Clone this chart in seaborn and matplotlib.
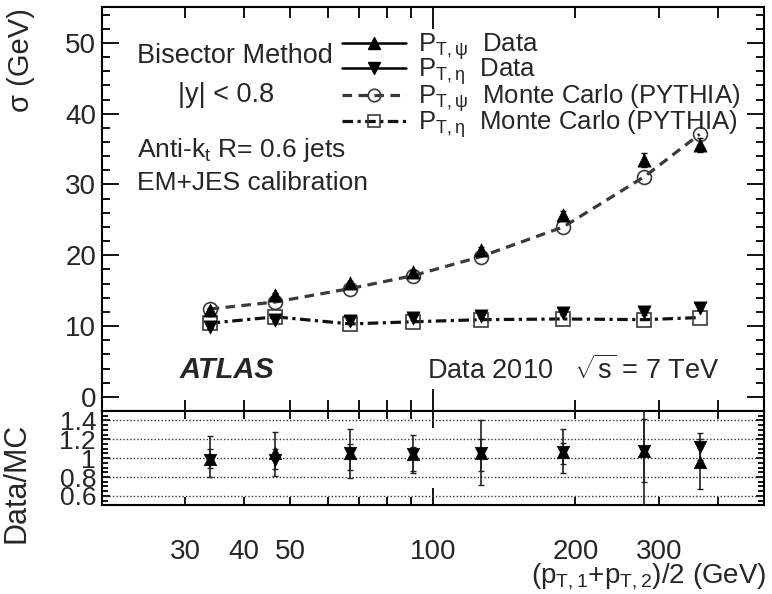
import matplotlib
matplotlib.use('Agg')
import matplotlib.pyplot as plt
import seaborn as sns
import pandas as pd
import numpy as np
from matplotlib.lines import Line2D
from matplotlib.ticker import FixedLocator, FuncFormatter, MultipleLocator, NullFormatter

# pT average bin centres (GeV)
pt_avg = [33.8, 46.5, 67.0, 90.6, 126.1, 188.5, 279.6, 365.9]

# sigma (GeV)
sigma_psi_data = [12.2, 14.4, 16.1, 17.6, 20.7, 25.7, 33.4, 35.6]
sigma_psi_err = [0.3, 0.3, 0.3, 0.3, 0.4, 0.5, 1.0, 1.0]
sigma_eta_data = [9.9, 10.8, 10.7, 11.1, 11.4, 11.8, 12.0, 12.6]
sigma_eta_err = [0.2, 0.2, 0.2, 0.2, 0.3, 0.3, 0.4, 0.4]
sigma_psi_mc = [12.4, 13.4, 15.3, 17.1, 19.8, 24.0, 31.1, 37.1]
sigma_eta_mc = [10.4, 11.3, 10.3, 10.6, 10.9, 11.0, 10.9, 11.2]

# Data/MC
ratio_psi = [0.99, 1.05, 1.05, 1.04, 1.05, 1.07, 1.08, 0.96]
ratio_psi_lo = [0.80, 0.81, 0.79, 0.84, 0.72, 0.84, 0.40, 0.67]
ratio_psi_hi = [1.23, 1.28, 1.31, 1.25, 1.40, 1.31, 1.80, 1.20]
ratio_eta = [0.98, 0.98, 1.05, 1.04, 1.05, 1.07, 1.08, 1.12]
ratio_eta_lo = [0.90, 0.88, 0.87, 0.86, 0.86, 0.94, 0.75, 0.98]
ratio_eta_hi = [1.10, 1.10, 1.15, 1.12, 1.20, 1.16, 1.41, 1.27]

df = pd.DataFrame({'pt': pt_avg,
                   'psi_data': sigma_psi_data, 'eta_data': sigma_eta_data,
                   'psi_mc': sigma_psi_mc, 'eta_mc': sigma_eta_mc,
                   'r_psi': ratio_psi, 'r_eta': ratio_eta})

sns.set_style('ticks')
plt.rcParams['font.family'] = ['Liberation Sans', 'DejaVu Sans']
plt.rcParams['mathtext.fontset'] = 'custom'
plt.rcParams['mathtext.rm'] = 'Liberation Sans'
plt.rcParams['mathtext.it'] = 'Liberation Sans:italic'
plt.rcParams['axes.linewidth'] = 1.5
plt.rcParams['axes.edgecolor'] = 'black'

fig = plt.figure(figsize=(7.72, 5.94), dpi=100)
ax1 = fig.add_axes([0.1317, 0.3081, 0.8579, 0.6793])
ax2 = fig.add_axes([0.1317, 0.1493, 0.8579, 0.1588])

grey = '#3a3a3a'

# --- top panel
ax1.set_xscale('log')
sns.lineplot(data=df, x='pt', y='psi_mc', ax=ax1, color=grey, lw=2.3,
             linestyle=(0, (3, 2)), marker='o', markersize=10,
             markerfacecolor='none', markeredgecolor=grey, markeredgewidth=1.2,
             zorder=2)
sns.lineplot(data=df, x='pt', y='eta_mc', ax=ax1, color='#111111', lw=2.3,
             linestyle=(0, (3.3, 1.4, 1, 1.4)), marker='s', markersize=10,
             markerfacecolor='none', markeredgecolor=grey, markeredgewidth=1.2,
             zorder=2)
ax1.errorbar(pt_avg, sigma_psi_data, yerr=sigma_psi_err, fmt='none',
             ecolor='black', elinewidth=1.2, capsize=2, zorder=3)
ax1.errorbar(pt_avg, sigma_eta_data, yerr=sigma_eta_err, fmt='none',
             ecolor='black', elinewidth=1.2, capsize=2, zorder=3)
sns.scatterplot(data=df, x='pt', y='psi_data', ax=ax1, marker='^', s=90,
                color='black', edgecolor='black', linewidth=0.5, zorder=4)
sns.scatterplot(data=df, x='pt', y='eta_data', ax=ax1, marker='v', s=90,
                color='black', edgecolor='black', linewidth=0.5, zorder=4)

ax1.set_ylim(-2, 55)
ax1.set_xlim(20, 500)
ax1.set_xlabel('')
ax1.set_ylabel('')
ax1.yaxis.set_major_locator(MultipleLocator(10))
ax1.yaxis.set_minor_locator(MultipleLocator(2))
ax1.xaxis.set_major_formatter(NullFormatter())
ax1.xaxis.set_minor_formatter(NullFormatter())

# --- ratio panel
ax2.set_xscale('log')
for lo_gr in [0.6, 0.8, 1.0, 1.2, 1.4]:
    ax2.axhline(lo_gr, color='#333333', lw=1.0, linestyle=(0, (1, 1.5)), zorder=1)
r = np.array(ratio_psi)
ax2.errorbar(pt_avg, ratio_psi, yerr=[r - np.array(ratio_psi_lo), np.array(ratio_psi_hi) - r],
             fmt='none', ecolor='#222222', elinewidth=1.2, capsize=2, zorder=3)
r = np.array(ratio_eta)
ax2.errorbar(pt_avg, ratio_eta, yerr=[r - np.array(ratio_eta_lo), np.array(ratio_eta_hi) - r],
             fmt='none', ecolor='#222222', elinewidth=1.2, capsize=2, zorder=3)
sns.scatterplot(data=df, x='pt', y='r_psi', ax=ax2, marker='^', s=80,
                color='black', edgecolor='black', linewidth=0.5, zorder=4)
sns.scatterplot(data=df, x='pt', y='r_eta', ax=ax2, marker='v', s=80,
                color='black', edgecolor='black', linewidth=0.5, zorder=4)
ax2.set_xlim(20, 500)
ax2.set_ylim(0.5, 1.5)
ax2.set_xlabel('')
ax2.set_ylabel('')
ax2.yaxis.set_major_locator(FixedLocator([0.6, 0.8, 1.0, 1.2, 1.4]))
ax2.yaxis.set_major_formatter(FuncFormatter(lambda v, p: '1' if abs(v - 1) < 1e-6 else f'{v:.1f}'))
ax2.yaxis.set_minor_locator(MultipleLocator(0.05))

x_labels = {30: '30', 40: '40', 50: '50', 200: '200', 300: '300'}
ax2.xaxis.set_major_locator(FixedLocator([100]))
ax2.xaxis.set_major_formatter(FuncFormatter(lambda v, p: '100'))
ax2.xaxis.set_minor_locator(FixedLocator([20, 30, 40, 50, 60, 70, 80, 90, 200, 300, 400, 500]))
ax2.xaxis.set_minor_formatter(FuncFormatter(lambda v, p: x_labels.get(int(round(v)), '')))
ax1.xaxis.set_major_locator(FixedLocator([100]))
ax1.xaxis.set_minor_locator(FixedLocator([20, 30, 40, 50, 60, 70, 80, 90, 200, 300, 400, 500]))

for ax in (ax1, ax2):
    ax.tick_params(which='both', direction='in', top=True, right=True,
                   labelsize=20, width=1.3, color='black')
    ax.tick_params(axis='y', which='major', pad=4)
ax1.tick_params(axis='y', which='major', length=12)
ax1.tick_params(axis='y', which='minor', length=6)
ax1.tick_params(axis='x', which='major', length=16)
ax1.tick_params(axis='x', which='minor', length=8)
ax2.tick_params(axis='y', which='major', length=6, labelsize=19)
ax2.tick_params(axis='y', which='minor', length=4)
ax2.tick_params(axis='x', which='major', length=12, pad=24)
ax2.tick_params(axis='x', which='minor', length=6, pad=24)

# --- legend
handles = [
    Line2D([], [], color='black', lw=1.8, marker='^', markersize=9),
    Line2D([], [], color='black', lw=1.8, marker='v', markersize=9),
    Line2D([], [], color=grey, lw=2.3, linestyle=(0, (3, 2)), marker='o', markersize=9,
           markerfacecolor='none', markeredgewidth=1.2),
    Line2D([], [], color='#111111', lw=2.3, linestyle=(0, (3.3, 1.4, 1, 1.4)), marker='s',
           markersize=9, markerfacecolor='none', markeredgecolor=grey, markeredgewidth=1.2),
]
labels = [r'P$_{\mathregular{T,ψ}}$  Data',
          r'P$_{\mathregular{T,η}}$  Data',
          r'P$_{\mathregular{T,ψ}}$  Monte Carlo (PYTHIA)',
          r'P$_{\mathregular{T,η}}$  Monte Carlo (PYTHIA)']
fig.legend(handles, labels, loc='upper left', bbox_to_anchor=(342 / 772, 1 - 31 / 594),
           frameon=False, fontsize=18.5, handlelength=2.5, handletextpad=0.45,
           labelspacing=-0.2, borderpad=0, borderaxespad=0)

# --- texts
fig.text(137 / 772, 1 - 63 / 594, 'Bisector Method', fontsize=19.5, va='baseline')
fig.text(178 / 772, 1 - 102 / 594, '|y| < 0.8', fontsize=19.5, va='baseline')
fig.text(137 / 772, 1 - 157 / 594, r'Anti-k$_\mathregular{t}$ R= 0.6 jets', fontsize=19, va='baseline')
fig.text(137 / 772, 1 - 190 / 594, 'EM+JES calibration', fontsize=19, va='baseline')
fig.text(180 / 772, 1 - 378 / 594, 'ATLAS', fontsize=21, fontweight='bold', fontstyle='italic',
         va='baseline')
fig.text(427 / 772, 1 - 379 / 594, r'Data 2010   $\sqrt{\mathregular{s}}$ = 7 TeV', fontsize=19.5,
         va='baseline')
fig.text(21 / 772, 1 - 60 / 594, 'σ (GeV)', fontsize=21, rotation=90, ha='center', va='center')
fig.text(17 / 772, 1 - 483 / 594, 'Data/MC', fontsize=22, rotation=90, ha='center', va='center')
fig.text(766 / 772, 1 - 583 / 594, r'(p$_\mathregular{T,1}$+p$_\mathregular{T,2}$)/2 (GeV)',
         fontsize=20, ha='right', va='baseline')

fig.savefig('out.png', dpi=100)
